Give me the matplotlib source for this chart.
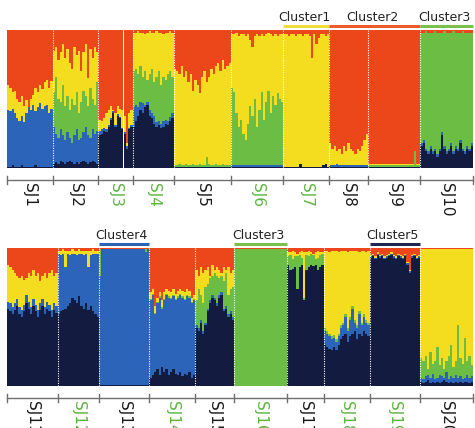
import numpy as np
import matplotlib
matplotlib.use("Agg")
import matplotlib.pyplot as plt
import matplotlib.transforms as mtransforms

# colours of the five clusters, stacked bottom -> top
cols = ['#141b40', '#2b64b9', '#6cbd43', '#f4dc1f', '#ec461b']

# cumulative tops (%) of navy, blue, green, yellow per individual; red fills to 100
top_groups = ['SJ1', 'SJ2', 'SJ3', 'SJ4', 'SJ5', 'SJ6', 'SJ7', 'SJ8', 'SJ9', 'SJ10']
top_green_lab = ['SJ3', 'SJ4', 'SJ6', 'SJ7']
top_data = {
    'SJ1': [[1,1,2,1,1,1,2,1,1,1,1,1,2,1,1,1,1,1,1,1],
            [42,41,43,40,36,34,38,33,40,44,42,46,41,44,47,43,45,46,40,43],
            [42,41,43,40,36,34,38,33,40,44,42,46,41,44,47,43,45,46,40,43],
            [60,58,55,56,50,48,52,45,49,44,50,53,58,55,60,57,62,64,58,63]],
    'SJ2': [[3,4,3,5,4,3,4,5,4,3,4,3,4,5,4,3,4,5,4,3],
            [30,25,22,28,24,20,26,22,18,24,28,20,22,26,30,24,22,28,25,27],
            [55,66,50,48,60,45,52,42,50,46,55,40,48,56,52,45,58,50,46,62],
            [85,88,78,84,90,80,86,76,72,88,82,85,70,84,90,65,86,80,88,84]],
    'SJ3': [[24,25,27,26,30,35,40,30,38,36,28,25,14,28,30],
            [27,28,29,28,31,36,41,31,39,37,29,26,16,29,31],
            [27,28,29,28,31,36,41,31,39,37,29,26,16,29,31],
            [35,34,36,40,42,45,42,40,45,43,42,38,18,40,42]],
    'SJ4': [[30,34,38,42,40,44,46,38,36,32,30,31,29,30,32,31,34,36],
            [44,46,44,48,47,46,48,42,40,38,33,34,32,34,35,34,37,40],
            [70,72,68,74,66,70,64,68,72,62,66,70,60,66,64,68,70,66],
            [98,98,99,98,98,97,98,99,98,98,99,98,98,97,98,98,99,98]],
    'SJ5': [[1,1,1,1,1,1,1,1,1,1,1,1,1,1,1,1,1,1,1,1,1,1,1,1,1],
            [1,1,1,1,1,1,1,1,1,1,1,1,1,1,1,1,1,1,1,1,1,1,1,1,1],
            [2,2,3,2,2,3,2,2,3,2,2,3,2,2,8,3,2,2,3,2,2,3,2,2,2],
            [72,70,68,74,66,70,62,68,56,64,60,54,66,70,62,66,72,68,74,76,70,78,72,74,76]],
    'SJ6': [[1,1,1,1,1,1,1,1,1,1,1,1,1,1,1,1,1,1,1,1,1,1,1],
            [2,2,2,2,2,2,2,2,2,2,2,2,2,2,2,2,2,2,2,2,2,2,2],
            [58,55,40,30,35,25,20,32,45,38,50,30,42,55,35,48,56,40,52,46,54,50,48],
            [97,97,98,96,97,97,96,97,93,88,96,97,96,97,96,97,98,97,96,97,96,97,97]],
    'SJ7': [[1,1,1,1,1,1,1,3,1,1,1,1,1,1,1,1,1,2,3,1],
            [1,1,1,1,1,1,1,3,1,1,1,1,1,1,1,1,1,2,3,1],
            [1,1,1,1,1,1,1,3,1,1,1,1,1,1,1,1,1,2,3,1],
            [97,97,96,97,97,96,97,97,96,97,97,96,80,97,90,94,97,97,96,97]],
    'SJ8': [[1,1,1,1,1,1,1,1,1,1,1,1,1,1,1,1,1],
            [2,2,2,3,2,2,2,2,2,2,2,2,2,2,2,2,2],
            [2,2,2,3,2,2,2,2,2,2,2,2,2,2,2,2,2],
            [18,14,16,12,14,10,16,12,18,14,12,10,14,12,16,20,25]],
    'SJ9': [[1,1,1,1,1,1,1,1,1,1,1,1,1,1,1,1,1,1,1,1,1,1,1],
            [1,1,1,1,1,1,1,1,1,1,1,1,1,1,1,1,1,1,1,1,1,1,1],
            [2,2,2,2,2,2,2,2,2,2,2,2,2,2,2,2,2,2,2,2,12,2,2],
            [3,3,3,3,3,3,3,3,3,3,3,3,3,3,3,3,3,3,3,3,12,3,3]],
    'SJ10': [[16,18,12,10,14,10,12,8,12,24,14,10,12,16,10,14,12,18,12,10,14,12,16],
             [18,20,14,12,16,12,14,10,14,26,16,12,14,18,12,16,14,20,14,12,16,14,18],
             [98,98,99,98,98,98,99,98,98,98,99,98,98,98,99,98,98,98,99,98,98,98,98],
             [98,98,99,98,98,98,99,98,98,98,99,98,98,98,99,98,98,98,99,98,98,98,98]],
}

bot_groups = ['SJ11', 'SJ12', 'SJ13', 'SJ14', 'SJ15', 'SJ16', 'SJ17', 'SJ18', 'SJ19', 'SJ20']
bot_green_lab = ['SJ12', 'SJ14', 'SJ16', 'SJ18', 'SJ19']
bot_data = {
    'SJ11': [[56,54,52,55,58,52,50,54,60,56,52,58,54,50,55,58,52,56,54,50,55,53],
             [61,60,57,60,63,57,55,59,66,61,57,63,59,55,60,63,57,61,59,55,60,58],
             [61,60,57,60,63,57,55,59,66,61,57,63,59,55,60,63,57,61,59,55,60,58],
             [88,86,84,82,80,78,80,77,78,82,80,84,80,82,76,80,82,78,82,84,80,82]],
    'SJ12': [[52,54,55,56,58,60,64,62,60,65,58,56,60,55,58,54,52,50],
             [96,95,96,86,96,95,96,96,95,96,96,95,96,86,95,96,96,96],
             [96,95,96,86,96,95,96,96,95,96,96,95,96,86,95,96,96,96],
             [98,98,99,98,98,98,99,98,98,99,98,98,98,98,98,99,98,98]],
    'SJ13': [[1,1,1,1,1,1,1,1,1,1,1,1,1,1,1,1,1,1,1,1,1,1],
             [80,99,99,99,99,99,99,99,99,99,99,99,99,99,99,99,99,99,99,99,97,99],
             [99,99,99,99,99,99,99,99,99,99,99,99,99,99,99,99,99,99,99,99,99,99],
             [99.5,99.5,99.5,99.5,99.5,99.5,99.5,99.5,99.5,99.5,99.5,99.5,99.5,99.5,99.5,99.5,99.5,99.5,99.5,99.5,99.5,99.5]],
    'SJ14': [[6,8,10,12,8,14,10,12,8,10,12,9,8,10,7,9,8,10,6,8],
             [62,66,52,60,64,56,62,66,64,63,65,62,64,66,64,62,65,64,60,62],
             [63,67,53,61,65,57,63,67,65,64,66,63,65,67,65,63,66,65,61,63],
             [68,70,58,64,68,62,68,70,69,68,70,67,69,70,69,68,70,69,64,66]],
    'SJ15': [[42,40,46,38,44,54,60,64,62,58,64,66,54,56,50,52,48],
             [44,42,48,40,46,56,62,66,64,60,66,68,56,58,52,54,50],
             [62,70,66,60,72,74,78,80,82,80,78,80,76,82,66,70,72],
             [84,80,86,82,84,86,80,88,84,86,84,82,86,84,86,82,84]],
    'SJ16': [[0,0,0,0,0,0,0,0,0,0,0,0,0,0,0,0,0,0,0,0,0,0,0],
             [0,0,0,0,0,0,0,0,0,0,0,0,0,0,0,0,0,0,0,0,0,0,0],
             [99,99,99,99,99,99,99,99,99,99,99,99,99,99,99,99,99,99,99,99,99,99,99],
             [99.5,99.5,99.5,99.5,99.5,99.5,99.5,99.5,99.5,99.5,99.5,99.5,99.5,99.5,99.5,99.5,99.5,99.5,99.5,99.5,99.5,99.5,99.5]],
    'SJ17': [[88,84,85,86,70,86,88,62,84,86,88,87,88,84,86,88],
             [88,84,85,86,70,86,88,62,84,86,88,87,88,84,86,88],
             [94,95,92,94,94,95,93,64,95,94,96,95,92,93,95,96],
             [97,97,98,97,96,97,98,97,97,98,97,96,97,98,97,97]],
    'SJ18': [[30,28,27,26,28,26,30,34,36,38,32,36,38,40,34,38,36,40,38,36],
             [40,38,36,34,35,32,36,42,44,50,40,48,56,46,42,52,44,50,46,44],
             [42,40,38,36,37,34,38,44,46,52,42,50,58,48,44,54,46,52,48,46],
             [98,98,97,98,98,98,97,98,98,98,97,98,98,98,98,97,98,98,97,98]],
    'SJ19': [[93,94,92,95,93,94,92,93,94,95,93,92,94,93,92,94,88,82,93,94,92,93],
             [94,95,93,96,94,95,93,94,95,96,94,93,95,94,93,95,89,83,94,95,93,94],
             [94,95,93,96,94,95,93,94,95,96,94,93,95,94,93,95,89,83,94,95,93,94],
             [95,96,94,97,95,96,94,95,96,97,95,94,96,95,94,96,90,84,95,96,94,95]],
    'SJ20': [[3,2,3,4,2,3,2,3,2,3,4,3,2,3,2,3,2,3,2,3,3,2,3],
             [6,5,7,8,6,9,5,6,8,7,6,10,5,7,6,8,6,7,5,6,8,6,7],
             [20,18,22,12,25,16,18,28,15,20,12,18,22,30,14,18,44,20,16,35,18,22,15],
             [99,99,99,99,99,99,99,99,99,99,99,99,99,99,99,99,99,99,99,99,99,99,99]],
}

# cluster bars above the panels: (label, first group, last group, colour)
top_clusters = [('Cluster1', 'SJ7', 'SJ7', '#f0dc3a'),
                ('Cluster2', 'SJ8', 'SJ9', '#ec5a2a'),
                ('Cluster3', 'SJ10', 'SJ10', '#7cc04c')]
bot_clusters = [('Cluster4', 'SJ13', 'SJ13', '#2b64b9'),
                ('Cluster3', 'SJ16', 'SJ16', '#7cc04c'),
                ('Cluster5', 'SJ19', 'SJ19', '#1c2650')]

W, H = 475, 428
fig = plt.figure(figsize=(W / 100, H / 100), dpi=100)


def panel(rect, groups, data, green_lab, clusters):
    ax = fig.add_axes(rect)
    x0 = 0
    bounds = [0]
    centers = {}
    for g in groups:
        tops = np.array(data[g], dtype=float) / 100.0
        n = tops.shape[1]
        xs = np.arange(x0, x0 + n)
        prev = np.zeros(n)
        for k in range(4):
            ax.bar(xs, tops[k] - prev, bottom=prev, width=1.0, align='edge',
                   color=cols[k], edgecolor='none')
            prev = tops[k]
        ax.bar(xs, 1 - prev, bottom=prev, width=1.0, align='edge',
               color=cols[4], edgecolor='none')
        centers[g] = (x0, x0 + n)
        x0 += n
        bounds.append(x0)
    ax.set_xlim(0, x0)
    ax.set_ylim(0, 1)
    ax.axis('off')
    for b in bounds[1:-1]:
        ax.axvline(b, color='white', ls=(0, (1, 1.2)), lw=0.8)

    tr = mtransforms.blended_transform_factory(ax.transData, ax.transAxes)
    yl = -12 / 138
    ax.plot([0, x0], [yl, yl], color='#6e6e6e', lw=1.0, transform=tr, clip_on=False)
    for b in bounds:
        ax.plot([b, b], [yl - 0.03, yl + 0.03], color='#6e6e6e', lw=1.0,
                transform=tr, clip_on=False)
    for g in groups:
        a, b = centers[g]
        c = '#5ab53f' if g in green_lab else '#1a1a1a'
        ax.text((a + b) / 2, -15 / 138, g, rotation=-90, ha='center', va='top',
                fontsize=11, color=c, transform=tr)

    for lab, g1, g2, c in clusters:
        a = centers[g1][0]
        b = centers[g2][1]
        ax.plot([a, b], [1.03, 1.03], color=c, lw=2.2, transform=tr,
                clip_on=False, solid_capstyle='butt')
        ax.text((a + b) / 2 - 1, 1.04, lab, ha='center', va='bottom',
                fontsize=9, color='#222222', transform=tr)
    return ax


panel([7 / W, 1 - 168 / H, 466 / W, 138 / H], top_groups, top_data,
      top_green_lab, top_clusters)
panel([7 / W, 1 - 386 / H, 466 / W, 138 / H], bot_groups, bot_data,
      bot_green_lab, bot_clusters)

fig.savefig('out.png', dpi=100, facecolor='white')
